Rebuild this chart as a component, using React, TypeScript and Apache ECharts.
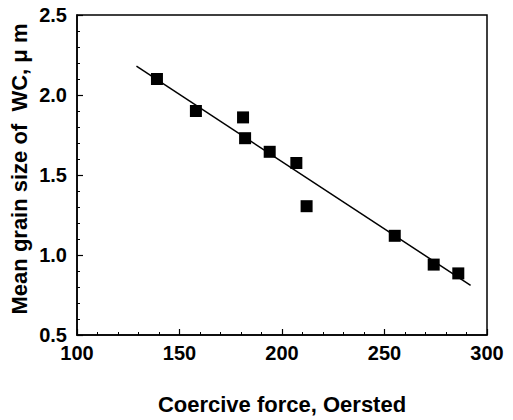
import React, { useEffect, useRef } from "react";
import * as echarts from "echarts";

const coerciveForce = [139, 158, 181, 182, 194, 207, 212, 255, 274, 286];
const grainSize = [2.1, 1.9, 1.86, 1.73, 1.645, 1.575, 1.305, 1.12, 0.94, 0.885];
const fitX = [129, 292];
const fitY = [2.18, 0.81];
const xTitle = "Coercive force, Oersted";
const yTitle = "Mean grain size of  WC, \u03bc m";

const FONT = "'Liberation Sans', Arial, sans-serif";

export default function App() {
  const ref = useRef<HTMLDivElement>(null);
  useEffect(() => {
    if (!ref.current) return;
    const chart = echarts.init(ref.current, undefined, { renderer: "svg" });
    const axisCommon = {
      axisLine: { show: true, lineStyle: { color: "#000", width: 1.5 } },
      axisTick: { show: true, inside: true, length: 6, lineStyle: { color: "#000", width: 1.2 } },
      minorTick: { show: true, splitNumber: 5, length: 3, lineStyle: { color: "#000", width: 1 } },
      splitLine: { show: false },
      axisLabel: { color: "#000", fontFamily: FONT, fontWeight: "bold", fontSize: 20 },
    };
    chart.setOption({
      animation: false,
      backgroundColor: "#fff",
      grid: {
        left: 77,
        right: 26,
        top: 15,
        bottom: 82,
        show: true,
        borderColor: "#000",
        borderWidth: 1.5,
      },
      xAxis: {
        type: "value",
        min: 100,
        max: 300,
        interval: 50,
        ...axisCommon,
        axisLabel: { ...axisCommon.axisLabel, margin: 8 },
        name: xTitle,
        nameLocation: "middle",
        nameGap: 58,
        nameTextStyle: { color: "#000", fontFamily: FONT, fontWeight: "bold", fontSize: 22 },
      },
      yAxis: {
        type: "value",
        min: 0.5,
        max: 2.5,
        interval: 0.5,
        ...axisCommon,
        axisLabel: {
          ...axisCommon.axisLabel,
          margin: 10,
          formatter: (v: number) => v.toFixed(1),
        },
      },
      graphic: [
        {
          type: "text",
          x: 19,
          y: 169,
          rotation: Math.PI / 2,
          style: {
            text: yTitle,
            fill: "#000",
            font: `bold 22px ${FONT}`,
            align: "center",
            verticalAlign: "middle",
          },
        },
      ],
      series: [
        {
          type: "line",
          data: fitX.map((x, i) => [x, fitY[i]]),
          showSymbol: false,
          symbol: "none",
          lineStyle: { color: "#000", width: 1.5 },
          z: 2,
        },
        {
          type: "scatter",
          data: coerciveForce.map((x, i) => [x, grainSize[i]]),
          symbol: "rect",
          symbolSize: 12,
          itemStyle: { color: "#000", opacity: 1 },
          z: 3,
        },
      ],
    });
    return () => chart.dispose();
  }, []);
  return <div ref={ref} style={{ width: 513, height: 420, position: "absolute", left: 0, top: 0 }} />;
}
